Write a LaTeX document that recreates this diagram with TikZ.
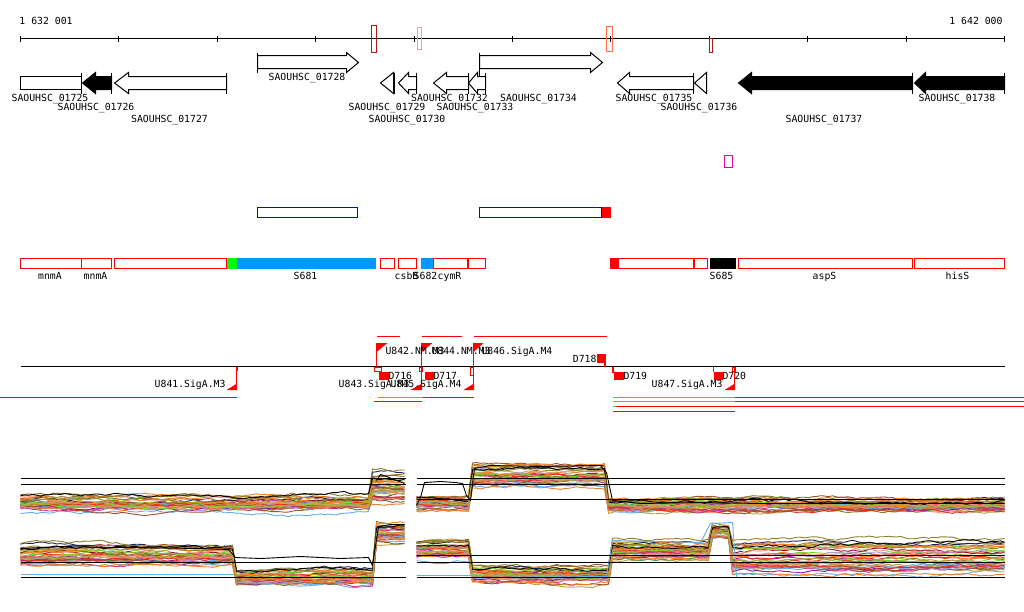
\documentclass[tikz,border=0pt]{standalone}
\usepackage{fontspec}
\setmonofont{DejaVu Sans Mono}
\definecolor{dkred}{HTML}{B01818}
\definecolor{salm}{HTML}{F4A090}
\definecolor{tomc}{HTML}{FF6A4A}
\definecolor{skyb}{HTML}{0099FF}
\definecolor{cgrn}{HTML}{00FF00}
\definecolor{p1}{HTML}{F07F2A}
\definecolor{p2}{HTML}{8B7D26}
\definecolor{p3}{HTML}{80D030}
\definecolor{p4}{HTML}{60B0F0}
\definecolor{p5}{HTML}{901890}
\definecolor{p6}{HTML}{E83020}
\definecolor{p7}{HTML}{A05030}
\definecolor{p8}{HTML}{202050}
\definecolor{p9}{HTML}{D03080}
\definecolor{p10}{HTML}{B8A040}
\definecolor{p11}{HTML}{F09070}
\definecolor{p12}{HTML}{A8A0C8}
\definecolor{p13}{HTML}{901020}
\definecolor{p14}{HTML}{40A060}
\newcommand\revgene[4]{%
  \draw[gene,fill=#4] (#1,82.5) -- (#2,72) -- (#2,76) -- (#3,76) -- (#3,89) -- (#2,89) -- (#2,93) -- cycle;
  \draw[gene] (#3,72) -- (#3,93);}
\begin{document}
\begin{tikzpicture}[x=1pt,y=-1pt,line width=1pt,
  lbl/.style={font=\ttfamily\fontsize{9.8}{10}\selectfont,inner sep=0pt,outer sep=0pt,anchor=base},
  gene/.style={draw=black,line width=1pt,line join=miter},
  feat/.style={draw=red,line width=1pt},
  curve/.style={line width=0.9pt,line join=round}]
\useasboundingbox (-0.5,-0.5) rectangle (1023.5,610.5);
\fill[white] (-0.5,-0.5) rectangle (1023.5,610.5);

% ---------- coordinate axis ----------
\draw (20,38) -- (1004,38);
\foreach \t in {0,...,10} \draw ({round(20+98.4*\t)},35) -- ({round(20+98.4*\t)},41);
\node[lbl,anchor=base west] (cstart) at (19,24) {1 632 001};
\node[lbl,anchor=base east] (cend) at (1002,24) {1 642 000};
\draw[dkred] (371,25) rectangle (376,52);
\draw[salm] (417,27) rectangle (421,49);
\draw[tomc] (606,26) rectangle (612,51);
\draw[dkred] (709,38) rectangle (712,52);

% ---------- genes ----------
\draw[gene,fill=white] (257,55) -- (346,55) -- (346,52) -- (358,62) -- (346,72) -- (346,68) -- (257,68) -- cycle;
\draw[gene] (257,52) -- (257,72);
\draw[gene,fill=white] (479,55) -- (590,55) -- (590,52) -- (602,62) -- (590,72) -- (590,68) -- (479,68) -- cycle;
\draw[gene] (479,52) -- (479,78);
\draw[gene,fill=white] (20,76) rectangle (81,89);
\draw[gene] (81,72) -- (81,93);
\revgene{82}{95}{111}{black}
\revgene{114}{128}{226}{white}
\draw[gene,fill=white] (380,82.5) -- (393,72) -- (393,93) -- cycle;
\draw[gene] (394,72) -- (394,93);
\revgene{398}{408}{416}{white}
\revgene{433}{446}{468}{white}
\revgene{468}{477}{485}{white}
\revgene{617}{629}{693}{white}
\draw[gene,fill=white] (694,82.5) -- (706,72) -- (706,93) -- cycle;
\revgene{738}{751}{912}{black}
\revgene{914}{925}{1004}{black}

\node[lbl] (g25) at (49.5,100.5) {SAOUHSC\_01725};
\node[lbl] (g26) at (95.5,109.5) {SAOUHSC\_01726};
\node[lbl] (g27) at (169,121.5) {SAOUHSC\_01727};
\node[lbl] (g28) at (306.5,79.5) {SAOUHSC\_01728};
\node[lbl] (g29) at (386.5,109.5) {SAOUHSC\_01729};
\node[lbl] (g30) at (406.5,121.5) {SAOUHSC\_01730};
\node[lbl] (g32) at (449,100.5) {SAOUHSC\_01732};
\node[lbl] (g33) at (474.5,109.5) {SAOUHSC\_01733};
\node[lbl] (g34) at (538,100.5) {SAOUHSC\_01734};
\node[lbl] (g35) at (653.5,100.5) {SAOUHSC\_01735};
\node[lbl] (g36) at (698.5,109.5) {SAOUHSC\_01736};
\node[lbl] (g37) at (823.5,121.5) {SAOUHSC\_01737};
\node[lbl] (g38) at (956.5,100.5) {SAOUHSC\_01738};

% ---------- misc boxes ----------
\draw[magenta] (724,155) rectangle (732,167);
\draw[blue] (257,207) rectangle (357,217);
\draw[blue] (479,207) rectangle (601,217);
\fill[red] (601,206.5) rectangle (610,217.5);

% ---------- features ----------
\draw[feat] (20,258) rectangle (81,268);
\draw[feat] (81,258) rectangle (111,268);
\draw[feat] (114,258) rectangle (226,268);
\fill[cgrn] (226.5,257.5) rectangle (236,268.5);
\fill[skyb] (236,257.5) rectangle (375,268.5);
\draw[feat] (380,258) rectangle (394,268);
\draw[feat] (398,258) rectangle (416,268);
\fill[skyb] (420,257.5) rectangle (433,268.5);
\draw[feat] (433,258) rectangle (467,268);
\draw[feat] (468,258) rectangle (485,268);
\fill[red] (609.5,257.5) rectangle (618,268.5);
\draw[feat] (618,258) rectangle (693,268);
\draw[feat] (694,258) rectangle (707,268);
\fill[black] (709,257.5) rectangle (735,268.5);
\draw[feat] (738,258) rectangle (912,268);
\draw[feat] (914,258) rectangle (1004,268);
\node[lbl] (fmn1) at (49.5,278.5) {mnmA};
\node[lbl] (fmn2) at (95,278.5) {mnmA};
\node[lbl] (fs681) at (305,278.5) {S681};
\node[lbl] (fcsb) at (406,278.5) {csbB};
\node[lbl] (fs682) at (425,278.5) {S682};
\node[lbl] (fcym) at (449,278.5) {cymR};
\node[lbl] (fs685) at (721,278.5) {S685};
\node[lbl] (fasp) at (824,278.5) {aspS};
\node[lbl] (fhis) at (957,278.5) {hisS};

% ---------- transcription units ----------
\draw (20,366) -- (1004,366);
\draw[red] (376,336) -- (399,336);
\draw[red] (421,336) -- (461,336);
\draw[red] (473,336) -- (606,336);
% forward starts
\draw[red] (376,343) -- (376,366);
\fill[red] (375.5,342.5) -- (387,342.5) -- (375.5,352) -- cycle;
\draw[red] (421,343) -- (421,366);
\fill[red] (420.5,342.5) -- (432,342.5) -- (420.5,352) -- cycle;
\draw[red] (473,343) -- (473,366);
\fill[red] (472.5,342.5) -- (483,342.5) -- (472.5,352) -- cycle;
\draw[red] (374,367) rectangle (381,371);
\draw[red] (419,367) rectangle (422,371);
\draw[red] (470,367) rectangle (473,375);
% reverse starts
\draw[red] (236,366) -- (236,389);
\fill[red] (235,366) rectangle (237.5,370);
\fill[red] (226,389.5) -- (236.5,389.5) -- (236.5,383) -- cycle;
\draw[red] (421,366) -- (421,389);
\fill[red] (410,389.5) -- (421.5,389.5) -- (421.5,383) -- cycle;
\draw[red] (473,366) -- (473,389);
\fill[red] (463,389.5) -- (473.5,389.5) -- (473.5,383) -- cycle;
\draw[red] (734,366) -- (734,389);
\draw[red] (732,367) rectangle (735,371);
\fill[red] (724,389.5) -- (734.5,389.5) -- (734.5,383) -- cycle;
% D boxes
\fill[red] (378,371) rectangle (388,379);
\fill[red] (424,371) rectangle (433,379);
\fill[red] (596,353) rectangle (605,362);
\draw[red,line width=1.5pt] (604.5,362) -- (604.5,366);
\fill[red] (613,371) rectangle (623,379);
\draw[red,line width=1.5pt] (612.5,366) -- (612.5,372);
\fill[red] (713,371) rectangle (722,379);
\draw[red] (713,366) -- (713,371);
% labels
\node[lbl,anchor=base west] (u842) at (385,353.5) {U842.NM.M3};
\node[lbl,anchor=base west] (u844) at (431,353.5) {U844.NM.M3};
\node[lbl,anchor=base west] (u846) at (481,353.5) {U846.SigA.M4};
\node[lbl,anchor=base east] (u841) at (225,386.5) {U841.SigA.M3};
\node[lbl,anchor=base east] (u843) at (409,386.5) {U843.SigA.M3};
\node[lbl,anchor=base east] (u845) at (461,386.5) {U845.SigA.M4};
\node[lbl,anchor=base east] (u847) at (722,386.5) {U847.SigA.M3};
\node[lbl,anchor=base west] (d716) at (388,378.5) {D716};
\node[lbl,anchor=base west] (d717) at (433,378.5) {D717};
\node[lbl,anchor=base east] (d718) at (596,361.5) {D718};
\node[lbl,anchor=base west] (d719) at (623,378.5) {D719};
\node[lbl,anchor=base west] (d720) at (722,378.5) {D720};
% transcript lines
\draw[red] (0,397) -- (236,397);
\draw[cgrn] (377,397) -- (422,397);
\draw[red] (422,397) -- (473,397);
\draw[red] (373,401) -- (421,401);
\draw[cgrn] (612,397) -- (734,397);
\draw[red] (734,397) -- (1024,397);
\draw[cgrn] (612,401) -- (734,401);
\draw[red] (734,401) -- (1024,401);
\draw[cgrn] (612,406) -- (615,406);
\draw[red] (615,406) -- (1024,406);
\draw[red] (612,411) -- (734,411);

% ---------- expression profiles ----------
\pgfmathsetseed{4242}
\foreach \c in {p1,p2,p3,p4,p5,p6,p7,p8,p9,p10,p11,p12,p13,p14,p1,p2,p7,p11,p3,p6,p1,p2,p10,p4,p5,p9,p1,p7,p12,p11,p2,p6,p1,black,p3,p10} {
  \pgfmathsetmacro\rk{rand}
  \pgfmathsetmacro\ph{180*rand}
  \pgfmathsetmacro\am{2.5*rand}
  \pgfmathsetmacro\va{503+6*\rk+3*rand}
  \pgfmathsetmacro\vb{487+14*\rk+5*rand}
  \pgfmathsetmacro\vc{503+5*\rk+3*rand}
  \pgfmathsetmacro\vd{475+10*\rk+3*rand}
  \pgfmathsetmacro\ve{504+6*\rk+3*rand}
  \pgfmathsetmacro\vf{554+9*\rk+3*rand}
  \pgfmathsetmacro\vg{577+7*\rk+3*rand}
  \pgfmathsetmacro\vh{533+9*\rk+3*rand}
  \pgfmathsetmacro\vi{549+8*\rk+3*rand}
  \pgfmathsetmacro\vj{574+8*\rk+3*rand}
  \pgfmathsetmacro\vk{550+9*\rk+3*rand}
  \pgfmathsetmacro\vl{530+6*\rk+2*rand}
  \pgfmathsetmacro\vm{557+16*\rk+3*rand}
  % top left
  \xdef\wv{0}\xdef\pts{}
  \foreach \x in {20,24,...,404} {
    \pgfmathsetmacro\nw{0.85*\wv+1.2*rand}\xdef\wv{\nw}
    \pgfmathsetmacro\yy{((\x<372)?\va:\vb)+\nw+\am*sin(1.3*\x+\ph)}
    \xdef\pts{\pts(\x,\yy)}}
  \edef\tmp{\noexpand\draw[curve,\c] plot coordinates {\pts};}\tmp
  % top right
  \xdef\wv{0}\xdef\pts{}
  \foreach \x in {416,420,...,1004} {
    \pgfmathsetmacro\nw{0.85*\wv+1.2*rand}\xdef\wv{\nw}
    \pgfmathsetmacro\yy{((\x<472)?\vc:((\x<606)?\vd:\ve))+\nw+\am*sin(1.1*\x+\ph)}
    \xdef\pts{\pts(\x,\yy)}}
  \edef\tmp{\noexpand\draw[curve,\c] plot coordinates {\pts};}\tmp
  % bottom left
  \xdef\wv{0}\xdef\pts{}
  \foreach \x in {20,24,...,404} {
    \pgfmathsetmacro\nw{0.85*\wv+1.2*rand}\xdef\wv{\nw}
    \pgfmathsetmacro\yy{((\x<233)?\vf:((\x<375)?\vg:\vh))+\nw+\am*sin(1.2*\x+\ph)}
    \xdef\pts{\pts(\x,\yy)}}
  \edef\tmp{\noexpand\draw[curve,\c] plot coordinates {\pts};}\tmp
  % bottom right
  \xdef\wv{0}\xdef\pts{}
  \foreach \x in {416,420,...,1004} {
    \pgfmathsetmacro\nw{0.85*\wv+1.2*rand}\xdef\wv{\nw}
    \pgfmathsetmacro\yy{((\x<470)?\vi:((\x<610)?\vj:((\x<710)?\vk:((\x<732)?\vl:\vm))))+\nw+\am*sin(0.9*\x+\ph)}
    \xdef\pts{\pts(\x,\yy)}}
  \edef\tmp{\noexpand\draw[curve,\c] plot coordinates {\pts};}\tmp
}
% distinctive single profiles
\draw[curve,black] (416,505) -- (420,497) -- (424,482) -- (440,481) -- (455,482) -- (462,483) -- (466,495) -- (470,500) -- (474,468) -- (490,465) -- (540,466) -- (600,465) -- (606,472) -- (612,500) -- (640,503) -- (700,502) -- (760,503) -- (1004,503);
\draw[curve,black] (376,480) -- (380,474) -- (386,476) -- (396,480) -- (404,483);
\draw[curve,black] (20,548) -- (60,546) -- (120,547) -- (200,548) -- (228,549) -- (235,557) -- (260,558) -- (300,556) -- (340,558) -- (368,557) -- (372,565) -- (378,526) -- (390,524) -- (404,524);
\draw[curve,p4] (20,574) -- (233,574);
\draw[curve,p4] (416,575) -- (470,575) -- (606,576) -- (612,540) -- (700,542) -- (710,523) -- (732,522) -- (736,577) -- (1004,577);

% reference lines
\draw (20,478) -- (405,478);  \draw (416,478) -- (1004,478);
\draw (20,484) -- (405,484);  \draw (416,484) -- (1004,484);
\draw (416,499) -- (1004,499);
\draw (416,555) -- (1004,555);
\draw (20,562) -- (405,562);  \draw (416,562) -- (1004,562);
\draw (20,577) -- (405,577);  \draw (416,577) -- (1004,577);
\end{tikzpicture}
\end{document}
